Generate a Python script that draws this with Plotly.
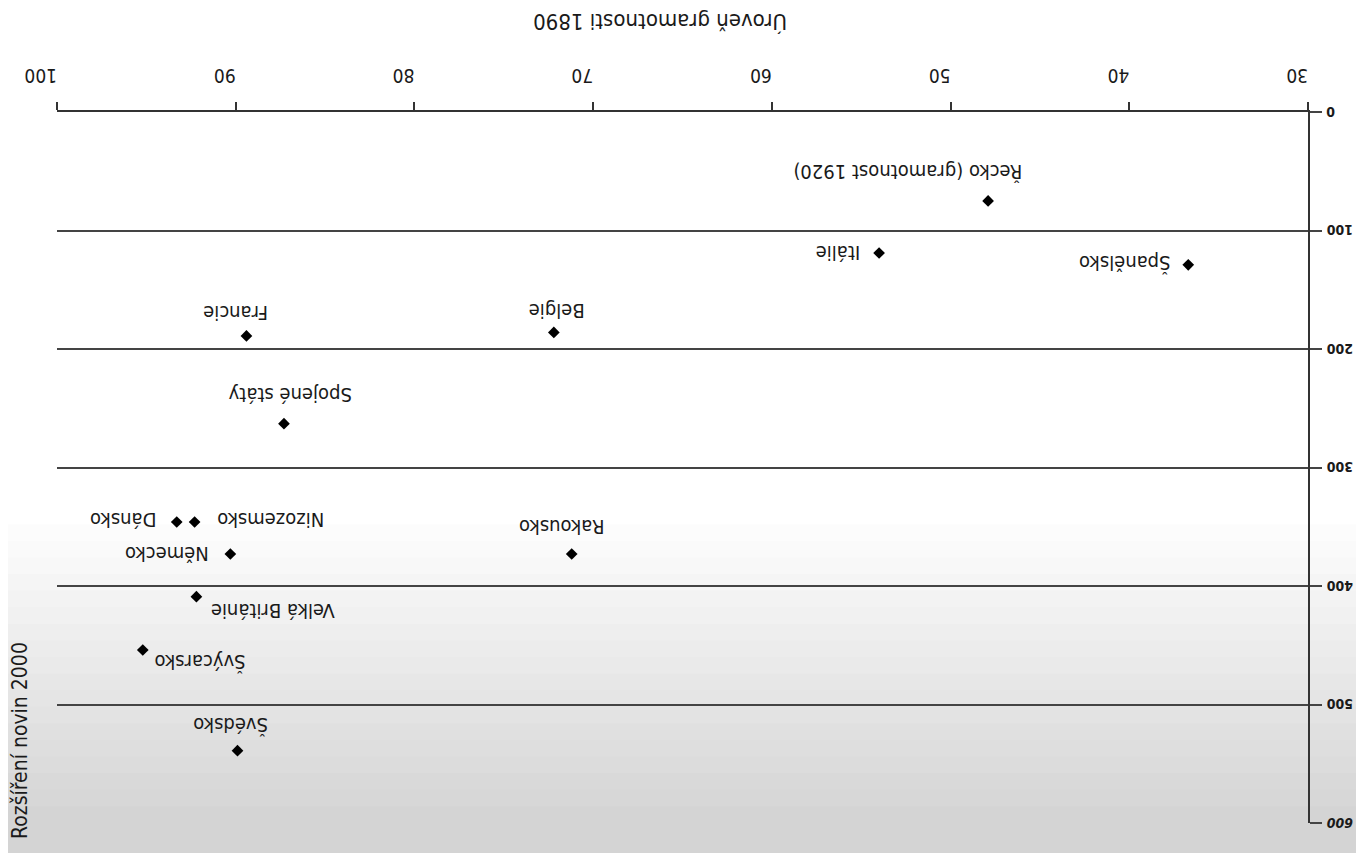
import plotly.graph_objects as go

countries = ["Řecko (gramotnost 1920)", "Itálie", "Španělsko", "Belgie", "Francie",
             "Spojené státy", "Nizozemsko", "Dánsko", "Německo", "Rakousko",
             "Velká Británie", "Švýcarsko", "Švédsko"]
literacy_1890 = [47.9, 54.0, 36.7, 72.2, 89.4, 87.3, 92.3, 93.3, 90.3, 71.2, 92.2, 95.2, 89.9]
newspapers_2000 = [75, 119, 129, 186, 189, 263, 346, 346, 373, 373, 409, 454, 539]

x_tick_vals = [30, 40, 50, 60, 70, 80, 90, 100]
y_tick_vals = [0, 100, 200, 300, 400, 500, 600]
y_tick_text = ["<b>0</b>", "<b>100</b>", "<b>200</b>", "<b>300</b>", "<b>400</b>", "<b>500</b>", "<b><i>600</i></b>"]

x_title = "Úroveň gramotnosti 1890"
y_title = "Rozšíření novin 2000"

# ---- label placement (pixels) ----
label_anchor = ["right", "right", "right", "center", "center", "center", "left", "right",
                "right", "center", "left", "left", "center"]
label_dx = [36, -17, -16, 3, -11, 6, 21, -18, -20, -10, 12, 10, -7]
label_dy = [29, 0, 2, 22, 23, 28, 2, 2, 0, 27, -15, -12, 25]

FONT = "DejaVu Sans Condensed, Roboto, Liberation Sans, sans-serif"
INK = "#1a1a1a"

fig = go.Figure()
fig.add_trace(go.Scatter(
    x=literacy_1890, y=newspapers_2000, mode="markers",
    marker=dict(symbol="diamond", size=9, color="black"),
    hoverinfo="skip", showlegend=False,
))

annotations = []
for name, xv, yv, anc, dx, dy in zip(countries, literacy_1890, newspapers_2000,
                                     label_anchor, label_dx, label_dy):
    annotations.append(dict(
        x=xv, y=yv, xref="x", yref="y", text=name, showarrow=False,
        textangle=180, xanchor=anc, yanchor="middle", xshift=dx, yshift=dy,
        font=dict(family=FONT, size=20, color=INK),
    ))

# y tick labels (upside-down, right of the axis)
for yv, txt in zip(y_tick_vals, y_tick_text):
    annotations.append(dict(
        x=1, y=yv, xref="paper", yref="y", text=txt, showarrow=False,
        textangle=180, xanchor="left", yanchor="middle", xshift=16,
        font=dict(family=FONT, size=14, color=INK),
    ))

annotations.append(dict(
    x=0.482, y=1.0, xref="paper", yref="paper", yshift=90, yanchor="middle",
    text=x_title, showarrow=False, textangle=180,
    font=dict(family=FONT, size=22, color=INK),
))
annotations.append(dict(
    x=0, y=0, xref="paper", yref="paper", xshift=-37, yshift=82,
    xanchor="center", yanchor="middle", text=y_title,
    showarrow=False, textangle=-90, font=dict(family=FONT, size=21, color=INK),
))

# subtle scan shading toward the bottom
shapes = []
n = 18
for i in range(n):
    top = 0.42 - i * 0.42 / n
    level = 252 - int(i * 40 / (n - 1))
    g = "rgb(%d,%d,%d)" % (level, level, level)
    shapes.append(dict(type="rect", xref="paper", yref="paper", x0=-0.1, x1=1.1,
                       y0=-0.1, y1=top, fillcolor=g, line=dict(width=0), layer="below"))

fig.update_layout(
    width=1348, height=845,
    margin=dict(l=49, r=48, t=104, b=30),
    paper_bgcolor="white", plot_bgcolor="rgba(0,0,0,0)",
    font=dict(family=FONT, color=INK),
    annotations=annotations, shapes=shapes,
    xaxis=dict(
        range=[100, 30], side="top", tickvals=x_tick_vals, tickangle=180,
        showgrid=False, zeroline=False, showline=True, linecolor="#333", linewidth=2,
        ticks="outside", ticklen=8, tickcolor="#333", tickwidth=1.5,
        ticklabelstandoff=6, automargin=False,
        tickfont=dict(family=FONT, size=19, color=INK),
    ),
    yaxis=dict(
        range=[600, 0], side="right", tickvals=y_tick_vals, showticklabels=False,
        showgrid=True, gridcolor="#444", gridwidth=1.5, automargin=False,
        zeroline=False, showline=True, linecolor="#333", linewidth=2,
        ticks="outside", ticklen=12, tickcolor="#444", tickwidth=1.5,
    ),
)

fig.write_html("out.html")
